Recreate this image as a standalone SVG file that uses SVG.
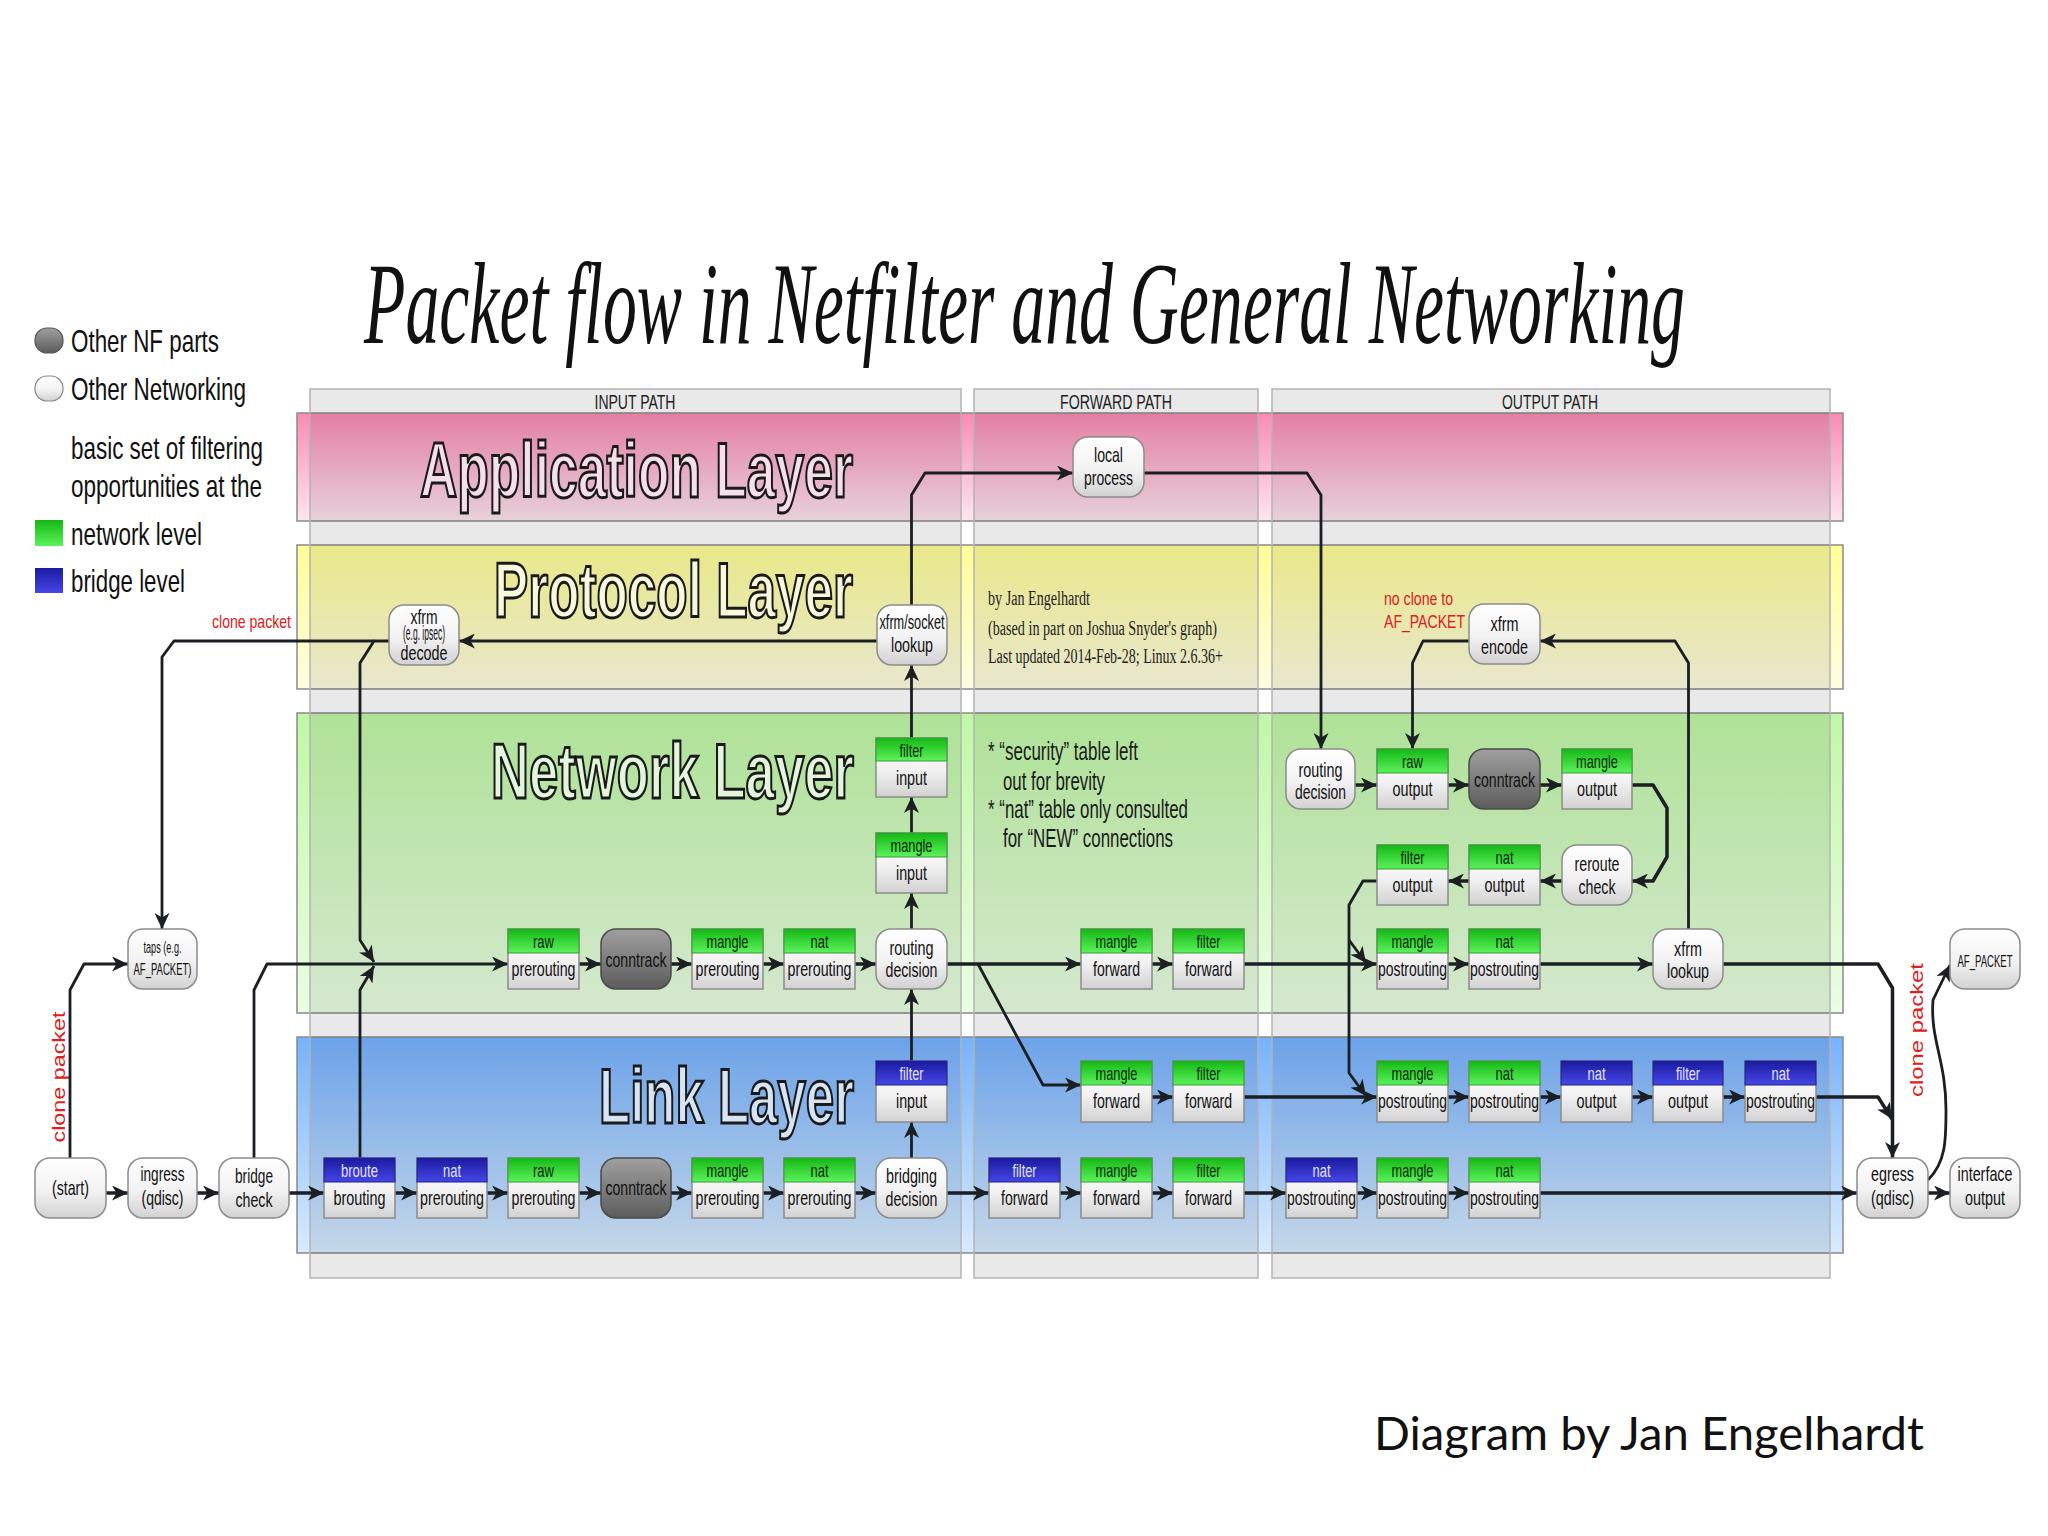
<svg xmlns="http://www.w3.org/2000/svg" width="2048" height="1536" viewBox="0 0 2048 1536">
<defs>
<linearGradient id="gPink" x1="0" y1="0" x2="0" y2="1"><stop offset="0" stop-color="#fb8bb3"/><stop offset="1" stop-color="#fde6ef"/></linearGradient>
<linearGradient id="gYel" x1="0" y1="0" x2="0" y2="1"><stop offset="0" stop-color="#ffff96"/><stop offset="1" stop-color="#fffde2"/></linearGradient>
<linearGradient id="gGrn" x1="0" y1="0" x2="0" y2="1"><stop offset="0" stop-color="#c0f8a6"/><stop offset="1" stop-color="#eafee3"/></linearGradient>
<linearGradient id="gBlu" x1="0" y1="0" x2="0" y2="1"><stop offset="0" stop-color="#76b2ff"/><stop offset="1" stop-color="#d8ecff"/></linearGradient>
<linearGradient id="gW" x1="0" y1="0" x2="0" y2="1"><stop offset="0" stop-color="#ffffff"/><stop offset="0.55" stop-color="#f2f2f2"/><stop offset="1" stop-color="#d2d2d2"/></linearGradient>
<linearGradient id="gD" x1="0" y1="0" x2="0" y2="1"><stop offset="0" stop-color="#a0a0a0"/><stop offset="1" stop-color="#5c5c5c"/></linearGradient>
<linearGradient id="gG" x1="0" y1="0" x2="0" y2="1"><stop offset="0" stop-color="#14b814"/><stop offset="1" stop-color="#5cf25c"/></linearGradient>
<linearGradient id="gB" x1="0" y1="0" x2="0" y2="1"><stop offset="0" stop-color="#1a1aa0"/><stop offset="1" stop-color="#4646e6"/></linearGradient>
<marker id="ah" viewBox="0 0 16 15" refX="16" refY="7.5" markerWidth="16" markerHeight="15" markerUnits="userSpaceOnUse" orient="auto"><path d="M0,0 L16,7.5 L0,15 L4.5,7.5 z" fill="#1b1e22"/></marker>
</defs>
<style>
.col{fill:#000;fill-opacity:.085;stroke:#b4b4b4;stroke-width:1.5}
.band{stroke:#8a8a8a;stroke-width:1.5}
.rn{fill:url(#gW);stroke:#8c8c8c;stroke-width:1.5}
.rd{fill:url(#gD);stroke:#4a4a4a;stroke-width:1.5}
.bd{fill:url(#gW);stroke:#8c8c8c;stroke-width:1.5}
.hg{fill:url(#gG);stroke:#3c9a3c;stroke-width:1}
.hb{fill:url(#gB);stroke:#20208a;stroke-width:1}
.t{font-family:"Liberation Sans",Arial,sans-serif;font-size:21px;fill:#111;text-anchor:middle}
.s{font-family:"Liberation Sans",Arial,sans-serif;font-size:17px;fill:#111;text-anchor:middle}
.h{font-family:"Liberation Sans",Arial,sans-serif;font-size:19px;fill:#0a2a0a;text-anchor:middle}
.hw{font-family:"Liberation Sans",Arial,sans-serif;font-size:19px;fill:#e4e4ff;text-anchor:middle}
.c{fill:none;stroke:#1b1e22;stroke-width:3.5;stroke-linejoin:round;marker-end:url(#ah)}
.c2{fill:none;stroke:#1b1e22;stroke-width:2.8;stroke-linejoin:round;marker-end:url(#ah)}
.lg{font-family:"Liberation Sans",Arial,sans-serif;font-size:32px;fill:#111}
.lay{font-family:"Liberation Sans",Arial,sans-serif;font-weight:bold;font-size:78px;stroke:#1a1a1a;stroke-width:3;text-anchor:end}
.ph{font-family:"Liberation Sans",Arial,sans-serif;font-size:20px;fill:#222;text-anchor:middle}
.red{font-family:"Liberation Sans",Arial,sans-serif;font-size:19px;fill:#e02020}
.ser{font-family:"Liberation Serif","Times New Roman",serif;font-size:20px;fill:#222}
.note{font-family:"Liberation Sans",Arial,sans-serif;font-size:25px;fill:#1a1a1a}
</style>
<rect width="2048" height="1536" fill="#ffffff"/>

<!-- bands -->
<rect id="band-app" class="band" x="297" y="413" width="1546" height="108" fill="url(#gPink)"/>
<rect id="band-proto" class="band" x="297" y="545" width="1546" height="144" fill="url(#gYel)"/>
<rect id="band-net" class="band" x="297" y="713" width="1546" height="300" fill="url(#gGrn)"/>
<rect id="band-link" class="band" x="297" y="1037" width="1546" height="216" fill="url(#gBlu)"/>
<!-- path columns -->
<rect id="col-input" class="col" x="310" y="389" width="651" height="889"/>
<rect id="col-forward" class="col" x="974" y="389" width="284" height="889"/>
<rect id="col-output" class="col" x="1272" y="389" width="558" height="889"/>
<text class="ph" x="635" y="409" textLength="81" lengthAdjust="spacingAndGlyphs">INPUT PATH</text>
<text class="ph" x="1116" y="409" textLength="112" lengthAdjust="spacingAndGlyphs">FORWARD PATH</text>
<text class="ph" x="1550" y="409" textLength="96" lengthAdjust="spacingAndGlyphs">OUTPUT PATH</text>

<!-- layer titles -->
<text class="lay" x="853" y="497" fill="#f6dfe9" textLength="433" lengthAdjust="spacingAndGlyphs">Application Layer</text>
<text class="lay" x="853" y="617" fill="#f8f8dc" textLength="359" lengthAdjust="spacingAndGlyphs">Protocol Layer</text>
<text class="lay" x="854" y="798" fill="#e3f6dc" textLength="363" lengthAdjust="spacingAndGlyphs">Network Layer</text>
<text class="lay" x="854" y="1123" fill="#d6e4f6" textLength="255" lengthAdjust="spacingAndGlyphs">Link Layer</text>

<!-- title -->
<text x="364" y="343" font-family="'Liberation Serif','Times New Roman',serif" font-style="italic" font-size="116" fill="#111" textLength="1321" lengthAdjust="spacingAndGlyphs">Packet flow in Netfilter and General Networking</text>

<!-- legend -->
<g id="legend">
<rect x="35" y="328" width="28" height="25" rx="12" fill="url(#gD)" stroke="#555" stroke-width="1.2"/>
<text class="lg" x="71" y="352" textLength="148" lengthAdjust="spacingAndGlyphs">Other NF parts</text>
<rect x="35" y="376" width="28" height="25" rx="12" fill="url(#gW)" stroke="#888" stroke-width="1.2"/>
<text class="lg" x="71" y="400" textLength="175" lengthAdjust="spacingAndGlyphs">Other Networking</text>
<text class="lg" x="71" y="459" textLength="192" lengthAdjust="spacingAndGlyphs">basic set of filtering</text>
<text class="lg" x="71" y="497" textLength="191" lengthAdjust="spacingAndGlyphs">opportunities at the</text>
<rect x="35" y="520" width="28" height="26" fill="url(#gG)"/>
<text class="lg" x="71" y="545" textLength="131" lengthAdjust="spacingAndGlyphs">network level</text>
<rect x="35" y="568" width="28" height="25" fill="url(#gB)"/>
<text class="lg" x="71" y="592" textLength="114" lengthAdjust="spacingAndGlyphs">bridge level</text>
</g>

<!-- notes -->
<g id="notes">
<text class="ser" x="988" y="605" textLength="102" lengthAdjust="spacingAndGlyphs">by Jan Engelhardt</text>
<text class="ser" x="988" y="635" textLength="229" lengthAdjust="spacingAndGlyphs">(based in part on Joshua Snyder's graph)</text>
<text class="ser" x="988" y="663" textLength="235" lengthAdjust="spacingAndGlyphs">Last updated 2014-Feb-28; Linux 2.6.36+</text>
<text class="note" x="988" y="760" textLength="150" lengthAdjust="spacingAndGlyphs">* “security” table left</text>
<text class="note" x="1003" y="790" textLength="102" lengthAdjust="spacingAndGlyphs">out for brevity</text>
<text class="note" x="988" y="818" textLength="200" lengthAdjust="spacingAndGlyphs">* “nat” table only consulted</text>
<text class="note" x="1003" y="847" textLength="170" lengthAdjust="spacingAndGlyphs">for “NEW” connections</text>
<text class="red" x="212" y="628" textLength="79" lengthAdjust="spacingAndGlyphs">clone packet</text>
<text class="red" x="1384" y="605" textLength="69" lengthAdjust="spacingAndGlyphs">no clone to</text>
<text class="red" x="1384" y="628" textLength="81" lengthAdjust="spacingAndGlyphs">AF_PACKET</text>
<text class="red" font-size="22" text-anchor="middle" transform="translate(65,1077) rotate(-90)" textLength="131" lengthAdjust="spacingAndGlyphs">clone packet</text>
<text class="red" font-size="22" text-anchor="middle" transform="translate(1923,1030) rotate(-90)" textLength="134" lengthAdjust="spacingAndGlyphs">clone packet</text>
</g>

<!-- connectors -->
<g id="connectors">
<path class="c" d="M106,1193 H128"/>
<path class="c" d="M197,1193 H219"/>
<path class="c" d="M289,1193 H324"/>
<path class="c" d="M395,1193 H417"/>
<path class="c" d="M487,1193 H508"/>
<path class="c" d="M579,1193 H601"/>
<path class="c" d="M671,1193 H692"/>
<path class="c" d="M763,1193 H784"/>
<path class="c" d="M855,1193 H876"/>
<path class="c" d="M947,1193 H989"/>
<path class="c" d="M1060,1193 H1081"/>
<path class="c" d="M1152,1193 H1173"/>
<path class="c" d="M1244,1193 H1286"/>
<path class="c" d="M1357,1193 H1377"/>
<path class="c" d="M1448,1193 H1469"/>
<path class="c" d="M1540,1193 H1857"/>
<path class="c" d="M1928,1193 H1950"/>
<path class="c2" d="M911.5,1158 V1122"/>
<path class="c2" d="M911.5,1061 V989"/>
<path class="c2" d="M70,1158 V990 L84,964 H128"/>
<path class="c2" d="M254,1158 V990 L267,964 H508"/>
<path class="c2" d="M360,1158 V990 L374,966"/>
<path class="c2" d="M389,641 H374 L360,663 V940 L374,962"/>
<path class="c2" d="M374,641 H174 L162,657 V929"/>
<path class="c" d="M579,964 H601"/>
<path class="c" d="M671,964 H692"/>
<path class="c" d="M763,964 H784"/>
<path class="c" d="M855,964 H876"/>
<path class="c2" d="M911.5,929 V893"/>
<path class="c2" d="M911.5,833 V797"/>
<path class="c2" d="M911.5,738 V665"/>
<path class="c2" d="M911.5,605 V495 L925,473 H1073"/>
<path class="c2" d="M877,641 H459"/>
<path class="c2" d="M1144,473 H1307 L1321,495 V749"/>
<path class="c" d="M1355,785 H1377"/>
<path class="c" d="M1448,785 H1469"/>
<path class="c" d="M1540,785 H1562"/>
<path class="c" d="M1632,785 H1653 L1667,808 V857 L1653,881 H1632"/>
<path class="c" d="M1562,881 H1540"/>
<path class="c" d="M1469,881 H1448"/>
<path class="c2" d="M1377,881 H1363 L1349,905 V1073 L1366,1096"/>
<path class="c2" d="M1349,940 L1366,963"/>
<path class="c" d="M947,964 H1081"/>
<path class="c2" d="M978,964 L1043,1085 H1081"/>
<path class="c" d="M1151,964 H1173"/>
<path class="c" d="M1243,964 H1377"/>
<path class="c" d="M1151,1097 H1173"/>
<path class="c" d="M1243,1097 H1377"/>
<path class="c" d="M1448,1097 H1469"/>
<path class="c" d="M1540,1097 H1561"/>
<path class="c" d="M1632,1097 H1653"/>
<path class="c" d="M1723,1097 H1745"/>
<path class="c" d="M1816,1097 H1878 L1892,1119"/>
<path class="c" d="M1448,964 H1469"/>
<path class="c" d="M1540,964 H1653"/>
<path class="c2" d="M1688.5,929 V663 L1675,641 H1540"/>
<path class="c2" d="M1469,641 H1423 L1412.5,663 V749"/>
<path class="c" d="M1723,964 H1878 L1892.5,988 V1158"/>
<path class="c2" d="M1928,1180 C1946,1162 1946,1140 1946,1110 C1946,1060 1930,1040 1933,1000 L1950,965"/>
</g>

<!-- rounded nodes -->
<g id="n-start"><rect class="rn" x="35" y="1158" width="71" height="60" rx="15"/><text class="t" x="70.5" y="1195" textLength="37" lengthAdjust="spacingAndGlyphs">(start)</text></g>
<g id="n-ingress"><rect class="rn" x="128" y="1158" width="69" height="60" rx="15"/><text class="t" x="162.5" y="1181" textLength="44" lengthAdjust="spacingAndGlyphs">ingress</text><text class="t" x="162.5" y="1205" textLength="42" lengthAdjust="spacingAndGlyphs">(qdisc)</text></g>
<g id="n-bridge-check"><rect class="rn" x="219" y="1158" width="70" height="60" rx="15"/><text class="t" x="254" y="1183" textLength="38" lengthAdjust="spacingAndGlyphs">bridge</text><text class="t" x="254" y="1207" textLength="37" lengthAdjust="spacingAndGlyphs">check</text></g>
<g id="n-taps"><rect class="rn" x="128" y="929" width="69" height="60" rx="15"/><text class="s" x="162.5" y="953" textLength="38" lengthAdjust="spacingAndGlyphs">taps (e.g.</text><text class="s" x="162.5" y="975" textLength="58" lengthAdjust="spacingAndGlyphs">AF_PACKET)</text></g>
<g id="n-xfrm-decode"><rect class="rn" x="389" y="605" width="70" height="60" rx="15"/><text class="t" x="424" y="624" textLength="27" lengthAdjust="spacingAndGlyphs">xfrm</text><text class="t" x="424" y="640" font-size="12" textLength="42" lengthAdjust="spacingAndGlyphs">(e.g. ipsec)</text><text class="t" x="424" y="660" textLength="47" lengthAdjust="spacingAndGlyphs">decode</text></g>
<g id="n-xfrm-socket-lookup"><rect class="rn" x="877" y="605" width="70" height="60" rx="15"/><text class="t" x="912" y="629" textLength="65" lengthAdjust="spacingAndGlyphs">xfrm/socket</text><text class="t" x="912" y="652" textLength="42" lengthAdjust="spacingAndGlyphs">lookup</text></g>
<g id="n-local-process"><rect class="rn" x="1073" y="437" width="71" height="60" rx="15"/><text class="t" x="1108.5" y="462" textLength="29" lengthAdjust="spacingAndGlyphs">local</text><text class="t" x="1108.5" y="485" textLength="49" lengthAdjust="spacingAndGlyphs">process</text></g>
<g id="n-xfrm-encode"><rect class="rn" x="1469" y="604" width="71" height="60" rx="15"/><text class="t" x="1504.5" y="631" textLength="28" lengthAdjust="spacingAndGlyphs">xfrm</text><text class="t" x="1504.5" y="654" textLength="47" lengthAdjust="spacingAndGlyphs">encode</text></g>
<g id="n-routing-decision-in"><rect class="rn" x="876" y="929" width="71" height="60" rx="15"/><text class="t" x="911.5" y="955" textLength="44" lengthAdjust="spacingAndGlyphs">routing</text><text class="t" x="911.5" y="977" textLength="52" lengthAdjust="spacingAndGlyphs">decision</text></g>
<g id="n-bridging-decision"><rect class="rn" x="876" y="1158" width="71" height="60" rx="15"/><text class="t" x="911.5" y="1183" textLength="51" lengthAdjust="spacingAndGlyphs">bridging</text><text class="t" x="911.5" y="1206" textLength="52" lengthAdjust="spacingAndGlyphs">decision</text></g>
<g id="n-routing-decision-out"><rect class="rn" x="1286" y="749" width="69" height="60" rx="15"/><text class="t" x="1320.5" y="777" textLength="44" lengthAdjust="spacingAndGlyphs">routing</text><text class="t" x="1320.5" y="799" textLength="51" lengthAdjust="spacingAndGlyphs">decision</text></g>
<g id="n-reroute-check"><rect class="rn" x="1562" y="845" width="70" height="60" rx="15"/><text class="t" x="1597" y="871" textLength="45" lengthAdjust="spacingAndGlyphs">reroute</text><text class="t" x="1597" y="894" textLength="37" lengthAdjust="spacingAndGlyphs">check</text></g>
<g id="n-xfrm-lookup"><rect class="rn" x="1653" y="929" width="70" height="60" rx="15"/><text class="t" x="1688" y="956" textLength="28" lengthAdjust="spacingAndGlyphs">xfrm</text><text class="t" x="1688" y="978" textLength="42" lengthAdjust="spacingAndGlyphs">lookup</text></g>
<g id="n-af-packet"><rect class="rn" x="1950" y="929" width="70" height="60" rx="15"/><text class="s" x="1985" y="967" textLength="55" lengthAdjust="spacingAndGlyphs">AF_PACKET</text></g>
<g id="n-egress"><rect class="rn" x="1857" y="1158" width="71" height="60" rx="15"/><text class="t" x="1892.5" y="1181" textLength="43" lengthAdjust="spacingAndGlyphs">egress</text><text class="t" x="1892.5" y="1205" textLength="43" lengthAdjust="spacingAndGlyphs">(qdisc)</text></g>
<g id="n-interface-output"><rect class="rn" x="1950" y="1158" width="70" height="60" rx="15"/><text class="t" x="1985" y="1181" textLength="55" lengthAdjust="spacingAndGlyphs">interface</text><text class="t" x="1985" y="1205" textLength="40" lengthAdjust="spacingAndGlyphs">output</text></g>
<g id="n-conntrack-net"><rect class="rd" x="601" y="929" width="70" height="60" rx="15"/><text class="t" x="636" y="967" textLength="61" lengthAdjust="spacingAndGlyphs">conntrack</text></g>
<g id="n-conntrack-link"><rect class="rd" x="601" y="1158" width="70" height="60" rx="15"/><text class="t" x="636" y="1195" textLength="61" lengthAdjust="spacingAndGlyphs">conntrack</text></g>
<g id="n-conntrack-out"><rect class="rd" x="1469" y="749" width="71" height="60" rx="15"/><text class="t" x="1504.5" y="787" textLength="61" lengthAdjust="spacingAndGlyphs">conntrack</text></g>

<!-- link level lower row -->
<g id="n-broute-brouting"><rect class="bd" x="324" y="1158" width="71" height="60"/><rect class="hb" x="324" y="1158" width="71" height="24"/><text class="hw" x="359.5" y="1177" textLength="37" lengthAdjust="spacingAndGlyphs">broute</text><text class="t" x="359.5" y="1205" textLength="52" lengthAdjust="spacingAndGlyphs">brouting</text></g>
<g id="n-nat-prerouting-br"><rect class="bd" x="417" y="1158" width="70" height="60"/><rect class="hb" x="417" y="1158" width="70" height="24"/><text class="hw" x="452" y="1177" textLength="18" lengthAdjust="spacingAndGlyphs">nat</text><text class="t" x="452" y="1205" textLength="64" lengthAdjust="spacingAndGlyphs">prerouting</text></g>
<g id="n-raw-prerouting-l"><rect class="bd" x="508" y="1158" width="71" height="60"/><rect class="hg" x="508" y="1158" width="71" height="24"/><text class="h" x="543.5" y="1177" textLength="21" lengthAdjust="spacingAndGlyphs">raw</text><text class="t" x="543.5" y="1205" textLength="64" lengthAdjust="spacingAndGlyphs">prerouting</text></g>
<g id="n-mangle-prerouting-l"><rect class="bd" x="692" y="1158" width="71" height="60"/><rect class="hg" x="692" y="1158" width="71" height="24"/><text class="h" x="727.5" y="1177" textLength="42" lengthAdjust="spacingAndGlyphs">mangle</text><text class="t" x="727.5" y="1205" textLength="64" lengthAdjust="spacingAndGlyphs">prerouting</text></g>
<g id="n-nat-prerouting-l"><rect class="bd" x="784" y="1158" width="71" height="60"/><rect class="hg" x="784" y="1158" width="71" height="24"/><text class="h" x="819.5" y="1177" textLength="18" lengthAdjust="spacingAndGlyphs">nat</text><text class="t" x="819.5" y="1205" textLength="64" lengthAdjust="spacingAndGlyphs">prerouting</text></g>
<g id="n-filter-forward-br"><rect class="bd" x="989" y="1158" width="71" height="60"/><rect class="hb" x="989" y="1158" width="71" height="24"/><text class="hw" x="1024.5" y="1177" textLength="24" lengthAdjust="spacingAndGlyphs">filter</text><text class="t" x="1024.5" y="1205" textLength="47" lengthAdjust="spacingAndGlyphs">forward</text></g>
<g id="n-mangle-forward-l2"><rect class="bd" x="1081" y="1158" width="71" height="60"/><rect class="hg" x="1081" y="1158" width="71" height="24"/><text class="h" x="1116.5" y="1177" textLength="42" lengthAdjust="spacingAndGlyphs">mangle</text><text class="t" x="1116.5" y="1205" textLength="47" lengthAdjust="spacingAndGlyphs">forward</text></g>
<g id="n-filter-forward-l2"><rect class="bd" x="1173" y="1158" width="71" height="60"/><rect class="hg" x="1173" y="1158" width="71" height="24"/><text class="h" x="1208.5" y="1177" textLength="24" lengthAdjust="spacingAndGlyphs">filter</text><text class="t" x="1208.5" y="1205" textLength="47" lengthAdjust="spacingAndGlyphs">forward</text></g>
<g id="n-nat-postrouting-br"><rect class="bd" x="1286" y="1158" width="71" height="60"/><rect class="hb" x="1286" y="1158" width="71" height="24"/><text class="hw" x="1321.5" y="1177" textLength="18" lengthAdjust="spacingAndGlyphs">nat</text><text class="t" x="1321.5" y="1205" textLength="69" lengthAdjust="spacingAndGlyphs">postrouting</text></g>
<g id="n-mangle-postrouting-l2"><rect class="bd" x="1377" y="1158" width="71" height="60"/><rect class="hg" x="1377" y="1158" width="71" height="24"/><text class="h" x="1412.5" y="1177" textLength="42" lengthAdjust="spacingAndGlyphs">mangle</text><text class="t" x="1412.5" y="1205" textLength="69" lengthAdjust="spacingAndGlyphs">postrouting</text></g>
<g id="n-nat-postrouting-l2"><rect class="bd" x="1469" y="1158" width="71" height="60"/><rect class="hg" x="1469" y="1158" width="71" height="24"/><text class="h" x="1504.5" y="1177" textLength="18" lengthAdjust="spacingAndGlyphs">nat</text><text class="t" x="1504.5" y="1205" textLength="69" lengthAdjust="spacingAndGlyphs">postrouting</text></g>

<!-- link level upper row -->
<g id="n-filter-input-br"><rect class="bd" x="876" y="1061" width="71" height="61"/><rect class="hb" x="876" y="1061" width="71" height="24"/><text class="hw" x="911.5" y="1080" textLength="24" lengthAdjust="spacingAndGlyphs">filter</text><text class="t" x="911.5" y="1108" textLength="31" lengthAdjust="spacingAndGlyphs">input</text></g>
<g id="n-mangle-forward-l1"><rect class="bd" x="1081" y="1061" width="71" height="61"/><rect class="hg" x="1081" y="1061" width="71" height="24"/><text class="h" x="1116.5" y="1080" textLength="42" lengthAdjust="spacingAndGlyphs">mangle</text><text class="t" x="1116.5" y="1108" textLength="47" lengthAdjust="spacingAndGlyphs">forward</text></g>
<g id="n-filter-forward-l1"><rect class="bd" x="1173" y="1061" width="71" height="61"/><rect class="hg" x="1173" y="1061" width="71" height="24"/><text class="h" x="1208.5" y="1080" textLength="24" lengthAdjust="spacingAndGlyphs">filter</text><text class="t" x="1208.5" y="1108" textLength="47" lengthAdjust="spacingAndGlyphs">forward</text></g>
<g id="n-mangle-postrouting-l1"><rect class="bd" x="1377" y="1061" width="71" height="61"/><rect class="hg" x="1377" y="1061" width="71" height="24"/><text class="h" x="1412.5" y="1080" textLength="42" lengthAdjust="spacingAndGlyphs">mangle</text><text class="t" x="1412.5" y="1108" textLength="69" lengthAdjust="spacingAndGlyphs">postrouting</text></g>
<g id="n-nat-postrouting-l1"><rect class="bd" x="1469" y="1061" width="71" height="61"/><rect class="hg" x="1469" y="1061" width="71" height="24"/><text class="h" x="1504.5" y="1080" textLength="18" lengthAdjust="spacingAndGlyphs">nat</text><text class="t" x="1504.5" y="1108" textLength="69" lengthAdjust="spacingAndGlyphs">postrouting</text></g>
<g id="n-nat-output-br"><rect class="bd" x="1561" y="1061" width="71" height="61"/><rect class="hb" x="1561" y="1061" width="71" height="24"/><text class="hw" x="1596.5" y="1080" textLength="18" lengthAdjust="spacingAndGlyphs">nat</text><text class="t" x="1596.5" y="1108" textLength="40" lengthAdjust="spacingAndGlyphs">output</text></g>
<g id="n-filter-output-br"><rect class="bd" x="1653" y="1061" width="70" height="61"/><rect class="hb" x="1653" y="1061" width="70" height="24"/><text class="hw" x="1688" y="1080" textLength="24" lengthAdjust="spacingAndGlyphs">filter</text><text class="t" x="1688" y="1108" textLength="40" lengthAdjust="spacingAndGlyphs">output</text></g>
<g id="n-nat-postrouting-br2"><rect class="bd" x="1745" y="1061" width="71" height="61"/><rect class="hb" x="1745" y="1061" width="71" height="24"/><text class="hw" x="1780.5" y="1080" textLength="18" lengthAdjust="spacingAndGlyphs">nat</text><text class="t" x="1780.5" y="1108" textLength="69" lengthAdjust="spacingAndGlyphs">postrouting</text></g>

<!-- network level main row -->
<g id="n-raw-prerouting"><rect class="bd" x="508" y="929" width="71" height="60"/><rect class="hg" x="508" y="929" width="71" height="24"/><text class="h" x="543.5" y="948" textLength="21" lengthAdjust="spacingAndGlyphs">raw</text><text class="t" x="543.5" y="976" textLength="64" lengthAdjust="spacingAndGlyphs">prerouting</text></g>
<g id="n-mangle-prerouting"><rect class="bd" x="692" y="929" width="71" height="60"/><rect class="hg" x="692" y="929" width="71" height="24"/><text class="h" x="727.5" y="948" textLength="42" lengthAdjust="spacingAndGlyphs">mangle</text><text class="t" x="727.5" y="976" textLength="64" lengthAdjust="spacingAndGlyphs">prerouting</text></g>
<g id="n-nat-prerouting"><rect class="bd" x="784" y="929" width="71" height="60"/><rect class="hg" x="784" y="929" width="71" height="24"/><text class="h" x="819.5" y="948" textLength="18" lengthAdjust="spacingAndGlyphs">nat</text><text class="t" x="819.5" y="976" textLength="64" lengthAdjust="spacingAndGlyphs">prerouting</text></g>
<g id="n-mangle-forward"><rect class="bd" x="1081" y="929" width="71" height="60"/><rect class="hg" x="1081" y="929" width="71" height="24"/><text class="h" x="1116.5" y="948" textLength="42" lengthAdjust="spacingAndGlyphs">mangle</text><text class="t" x="1116.5" y="976" textLength="47" lengthAdjust="spacingAndGlyphs">forward</text></g>
<g id="n-filter-forward"><rect class="bd" x="1173" y="929" width="71" height="60"/><rect class="hg" x="1173" y="929" width="71" height="24"/><text class="h" x="1208.5" y="948" textLength="24" lengthAdjust="spacingAndGlyphs">filter</text><text class="t" x="1208.5" y="976" textLength="47" lengthAdjust="spacingAndGlyphs">forward</text></g>
<g id="n-mangle-postrouting"><rect class="bd" x="1377" y="929" width="71" height="60"/><rect class="hg" x="1377" y="929" width="71" height="24"/><text class="h" x="1412.5" y="948" textLength="42" lengthAdjust="spacingAndGlyphs">mangle</text><text class="t" x="1412.5" y="976" textLength="69" lengthAdjust="spacingAndGlyphs">postrouting</text></g>
<g id="n-nat-postrouting"><rect class="bd" x="1469" y="929" width="71" height="60"/><rect class="hg" x="1469" y="929" width="71" height="24"/><text class="h" x="1504.5" y="948" textLength="18" lengthAdjust="spacingAndGlyphs">nat</text><text class="t" x="1504.5" y="976" textLength="69" lengthAdjust="spacingAndGlyphs">postrouting</text></g>

<!-- network level others -->
<g id="n-mangle-input"><rect class="bd" x="876" y="833" width="71" height="60"/><rect class="hg" x="876" y="833" width="71" height="24"/><text class="h" x="911.5" y="852" textLength="42" lengthAdjust="spacingAndGlyphs">mangle</text><text class="t" x="911.5" y="880" textLength="31" lengthAdjust="spacingAndGlyphs">input</text></g>
<g id="n-filter-input"><rect class="bd" x="876" y="738" width="71" height="59"/><rect class="hg" x="876" y="738" width="71" height="23"/><text class="h" x="911.5" y="757" textLength="24" lengthAdjust="spacingAndGlyphs">filter</text><text class="t" x="911.5" y="785" textLength="31" lengthAdjust="spacingAndGlyphs">input</text></g>
<g id="n-raw-output"><rect class="bd" x="1377" y="749" width="71" height="60"/><rect class="hg" x="1377" y="749" width="71" height="24"/><text class="h" x="1412.5" y="768" textLength="21" lengthAdjust="spacingAndGlyphs">raw</text><text class="t" x="1412.5" y="796" textLength="40" lengthAdjust="spacingAndGlyphs">output</text></g>
<g id="n-mangle-output"><rect class="bd" x="1562" y="749" width="70" height="60"/><rect class="hg" x="1562" y="749" width="70" height="24"/><text class="h" x="1597" y="768" textLength="42" lengthAdjust="spacingAndGlyphs">mangle</text><text class="t" x="1597" y="796" textLength="40" lengthAdjust="spacingAndGlyphs">output</text></g>
<g id="n-filter-output"><rect class="bd" x="1377" y="845" width="71" height="60"/><rect class="hg" x="1377" y="845" width="71" height="24"/><text class="h" x="1412.5" y="864" textLength="24" lengthAdjust="spacingAndGlyphs">filter</text><text class="t" x="1412.5" y="892" textLength="40" lengthAdjust="spacingAndGlyphs">output</text></g>
<g id="n-nat-output"><rect class="bd" x="1469" y="845" width="71" height="60"/><rect class="hg" x="1469" y="845" width="71" height="24"/><text class="h" x="1504.5" y="864" textLength="18" lengthAdjust="spacingAndGlyphs">nat</text><text class="t" x="1504.5" y="892" textLength="40" lengthAdjust="spacingAndGlyphs">output</text></g>

<text x="1374" y="1450" font-family="Lato,'Liberation Sans',sans-serif" font-size="46" fill="#111" textLength="550" lengthAdjust="spacingAndGlyphs">Diagram by Jan Engelhardt</text>
</svg>
